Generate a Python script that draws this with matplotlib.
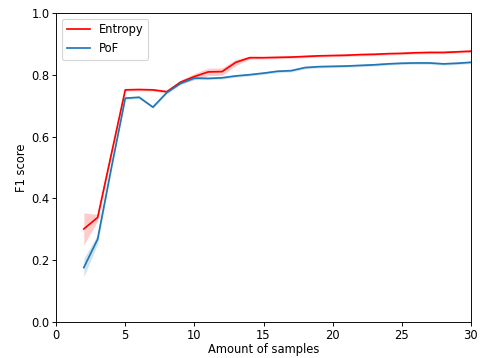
import matplotlib
matplotlib.use("Agg")
import matplotlib.pyplot as plt
import numpy as np

# Amount of samples on the x axis
samples = np.arange(2, 31)

# Mean F1 score per amount of samples
entropy_mean = [0.301, 0.338, 0.545, 0.751, 0.752, 0.751, 0.745, 0.776, 0.794, 0.809,
                0.810, 0.840, 0.855, 0.855, 0.856, 0.857, 0.859, 0.861, 0.862, 0.863,
                0.865, 0.866, 0.868, 0.869, 0.871, 0.872, 0.872, 0.874, 0.876]
pof_mean = [0.176, 0.268, 0.500, 0.724, 0.727, 0.695, 0.742, 0.772, 0.789, 0.788,
            0.790, 0.796, 0.800, 0.805, 0.811, 0.813, 0.823, 0.826, 0.827, 0.828,
            0.830, 0.832, 0.835, 0.837, 0.838, 0.838, 0.835, 0.837, 0.840]

# Spread of the shaded band around each mean
entropy_std = [0.052, 0.010, 0.008, 0.004, 0.004, 0.004, 0.004, 0.006, 0.010, 0.012,
               0.012, 0.010, 0.005, 0.004, 0.004, 0.004, 0.004, 0.004, 0.004, 0.004,
               0.004, 0.004, 0.004, 0.004, 0.004, 0.004, 0.004, 0.004, 0.004]
pof_std = [0.030, 0.015, 0.008, 0.004, 0.004, 0.004, 0.004, 0.004, 0.004, 0.004,
           0.004, 0.004, 0.004, 0.004, 0.004, 0.004, 0.004, 0.004, 0.004, 0.004,
           0.004, 0.004, 0.004, 0.004, 0.004, 0.004, 0.004, 0.004, 0.004]

entropy_mean = np.array(entropy_mean)
pof_mean = np.array(pof_mean)
entropy_std = np.array(entropy_std)
pof_std = np.array(pof_std)

dpi = 83
fig = plt.figure(figsize=(480 / dpi, 358 / dpi), dpi=dpi)
ax = fig.add_axes([0.117, 0.1006, 0.864, 0.8634])

ax.plot(samples, entropy_mean, color="red", label="Entropy")
ax.fill_between(samples, entropy_mean - entropy_std, entropy_mean + entropy_std,
                color="red", alpha=0.2, linewidth=0)
ax.plot(samples, pof_mean, color="#1f77b4", label="PoF")
ax.fill_between(samples, pof_mean - pof_std, pof_mean + pof_std,
                color="#1f77b4", alpha=0.2, linewidth=0)

ax.set_xlim(0, 30)
ax.set_ylim(0, 1.0)
ax.tick_params(length=3.2, pad=2.5)
ax.set_xlabel("Amount of samples", labelpad=1.5)
ax.set_ylabel("F1 score", labelpad=3)
ax.legend(loc="upper left")

plt.savefig("out.png", dpi=dpi)
